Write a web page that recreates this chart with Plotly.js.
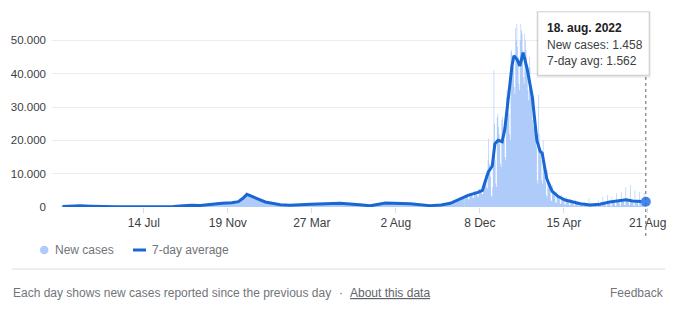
<!DOCTYPE html>
<html><head><meta charset="utf-8">
<script src="https://cdn.plot.ly/plotly-3.0.1.min.js"></script>
<style>html,body{margin:0;padding:0;background:#fff;}#chart{width:694px;height:326px;}</style>
</head><body><div id="chart"></div>
<script>
// ---------- data ----------
const xTickDates = ['2020-07-14','2020-11-19','2021-03-27','2021-08-02','2021-12-08','2022-04-15','2022-08-21'];
const xTickLabels = ['14 Jul','19 Nov','27 Mar','2 Aug','8 Dec','15 Apr','21 Aug'];
const yTickValues = [0,10000,20000,30000,40000,50000];
const yTickLabels = ['0','10.000','20.000','30.000','40.000','50.000'];

// new cases, average per day for each week (Mon start), Mar 2020 - Nov 2021
const weeklyStart = '2020-03-09';
const weeklyCases = [
  150,200,250,300, 350,300,250,200, 150,120,100,80, 70,60,60,50,50, 50,50,60,80,
  120,150,150,130,200, 300,450,550,500, 450,500,700,950, 1100,1150,1200,1300,1500,
  2500,3500,3300,2600,
  2000,1300,900,750, 650,550,500,550, 650,700,750,800,750, 700,750,850,900,
  1000,1050,1000,900,800, 650,450,350,400, 700,1100,1200,1000, 950,1000,1050,1000,850,
  650,500,400,450, 550,700,950,1300, 1900,2500
];

// new cases per day, 15 Nov 2021 - 18 Aug 2022 (rows = weeks Mon..Sun)
const dailyStart = '2021-11-15';
const dailyCases = [
  3600,3500,3400,3300,3000,2400,2200,
  4200,4000,3900,3800,3500,2800,2600,
  4800,4700,4500,4400,4000,3300,3000,
  5400,5300,5100,5000,4700,4000,3800,
  7000,8000,8500,9500,8500,6000,5500,
  14000,20500,13000,12500,9000,3500,3000,
  6000,18000,41000,25000,14000,7000,6000,
  27000,28000,24000,22000,19000,13000,12000,
  26000,27000,24000,22000,20000,15000,14000,
  33000,35000,32000,30000,28000,22000,20000,
  46500,47000,45000,44000,42000,36000,34000,
  53600,50000,55000,48000,45000,37000,35000,
  50000,55000,53000,52000,47000,39000,37000,
  52000,50000,47000,45000,42000,35000,32000,
  45000,42000,38000,35000,32000,26000,24000,
  33000,30000,26000,22000,18000,8000,7000,
  33600,22000,18000,16000,14000,8000,7000,
  20000,14000,11000,9000,7500,3500,3000,
  11000,8000,6500,5500,4500,2000,1800,
  6500,5000,4200,3600,3200,1400,1200,
  4500,3500,3000,2600,2300,1000,900,
  3500,2800,2400,2100,1800,800,700,
  3100,2400,2000,1800,1500,600,500,
  2600,2000,1700,1500,1300,500,400,
  2200,1600,1400,1200,1000,400,350,
  1700,1300,1100,900,800,300,250,
  1400,1000,900,700,600,250,200,
  2600,800,700,550,450,200,150,
  1200,900,750,600,500,200,150,
  2000,1000,850,700,600,200,200,
  3100,1000,900,800,650,200,200,
  3600,1300,1200,1000,900,300,250,
  3000,1600,1500,1300,1100,400,350,
  4100,2000,1800,1600,1400,500,400,
  4500,2300,2000,1800,1600,600,500,
  5900,2400,2100,1900,1700,600,500,
  6600,2000,1800,1600,1400,500,400,
  5000,1900,1700,1500,1300,450,400,
  4600,1800,1600,1450,1300,450,400,
  4300,1900,1700,1458
];

// 7-day average, read at points along the line
const avgDates = [
  '2020-03-12','2020-03-25','2020-04-08','2020-04-25','2020-05-10','2020-06-01','2020-06-25',
  '2020-07-14','2020-08-08','2020-08-28','2020-09-12','2020-09-25','2020-10-08','2020-10-28',
  '2020-11-10','2020-11-25','2020-12-05','2020-12-12','2020-12-18','2020-12-23','2021-01-07',
  '2021-01-15','2021-02-07','2021-02-22','2021-03-25','2021-05-09','2021-06-08','2021-06-24',
  '2021-07-17','2021-08-24','2021-09-23','2021-10-10','2021-10-24','2021-11-08','2021-11-20',
  '2021-12-05','2021-12-12','2021-12-16','2021-12-21','2021-12-27','2021-12-31','2022-01-05',
  '2022-01-11','2022-01-15','2022-01-20','2022-01-26','2022-01-29','2022-02-03','2022-02-07',
  '2022-02-12','2022-02-18','2022-02-26','2022-03-05','2022-03-10','2022-03-13','2022-03-20',
  '2022-03-28','2022-04-06','2022-04-17','2022-04-24','2022-05-10','2022-05-25','2022-06-09',
  '2022-06-24','2022-07-09','2022-07-19','2022-07-29','2022-08-08','2022-08-18'
];
const avgValues = [
  150,250,350,250,130,70,50,
  50,120,130,350,550,450,950,
  1150,1300,1600,2600,3800,3400,2300,
  1500,650,550,850,1100,650,350,
  1200,1000,400,600,1100,2300,3500,
  4400,5000,7500,10500,12300,19000,20000,
  19600,23200,32000,42300,45400,44200,42300,
  46300,41600,33000,20000,16700,16200,8500,
  4800,3200,2100,1700,1000,600,850,
  1500,2000,2200,1800,1700,1562
];
const tooltipDate = '18. aug. 2022';

// ---------- helpers ----------
const DAY = 86400000;
function addDays(iso, n){ return new Date(Date.parse(iso + 'T00:00:00Z') + n*DAY); }
function iso(d){ return d.toISOString().slice(0,10); }
function fmt(n){ return String(n).replace(/\B(?=(\d{3})+(?!\d))/g,'.'); }

const weeklyX = weeklyCases.map((_,i)=> iso(addDays(weeklyStart, i*7)));
const dailyX = dailyCases.map((_,i)=> iso(addDays(dailyStart, i)));
const lastDate = dailyX[dailyX.length-1];

// geometry (px) for paper-coordinate placement
const W=694, H=326, ML=52, MR=46, MT=17, MB=119;
const PW = W-ML-MR, PH = H-MT-MB;
const px = x => (x-ML)/PW;
const py = y => (H-MB-y)/PH;

const FONT = 'Arial, "Liberation Sans", sans-serif';
const BAR = '#aecbfa', LINE = '#1967d2', DOT = '#4285f4', GREY = '#70757a';

// daily bars drawn as a single stepped area (one bar per step, no seams between bars)
const traces = [
  {type:'scatter', mode:'lines', x: weeklyX.concat([dailyX[0]]), y: weeklyCases.concat([dailyCases[0]]),
   line:{width:0, shape:'hv', color:BAR}, fill:'tozeroy', fillcolor:BAR, hoverinfo:'skip', showlegend:false},
  {type:'scatter', mode:'lines', x: dailyX, y: dailyCases,
   line:{width:0, shape:'hv', color:BAR}, fill:'tozeroy', fillcolor:BAR, hoverinfo:'skip', showlegend:false},
  {type:'scatter', mode:'lines', x: avgDates, y: avgValues, line:{color:LINE, width:3}, hoverinfo:'skip', showlegend:false},
  {type:'scatter', mode:'markers', x:[avgDates[avgDates.length-1]], y:[avgValues[avgValues.length-1]],
   marker:{color:DOT, size:10}, hoverinfo:'skip', showlegend:false, cliponaxis:false}
];

const shapes = [
  // hover guide
  {type:'line', xref:'x', yref:'paper', x0:lastDate, x1:lastDate, y0:py(236), y1:py(14),
   line:{color:'#5f6368', width:1, dash:'dot'}},
  // tooltip shadow + box
  {type:'rect', xref:'paper', yref:'paper', x0:px(536), x1:px(651), y0:py(78), y1:py(11), fillcolor:'rgba(0,0,0,0.05)', line:{width:0}},
  {type:'rect', xref:'paper', yref:'paper', x0:px(537), x1:px(650), y0:py(76.5), y1:py(11.5), fillcolor:'rgba(0,0,0,0.08)', line:{width:0}},
  {type:'rect', xref:'paper', yref:'paper', x0:px(538), x1:px(649), y0:py(75), y1:py(12), fillcolor:'#ffffff', line:{color:'rgba(0,0,0,0.10)', width:1}},
  // legend marks
  {type:'circle', xref:'paper', yref:'paper', x0:px(40), x1:px(48.5), y0:py(254.3), y1:py(245.8), fillcolor:BAR, line:{width:0}},
  {type:'line', xref:'paper', yref:'paper', x0:px(133), x1:px(146), y0:py(250), y1:py(250), line:{color:LINE, width:3}},
  // footer separator
  {type:'line', xref:'paper', yref:'paper', x0:px(12), x1:px(665), y0:py(269), y1:py(269), line:{color:'#dadce0', width:1}}
];

function ann(text, x, y, opts){
  return Object.assign({text, xref:'paper', yref:'paper', x:px(x), y:py(y), xanchor:'left', yanchor:'middle',
    showarrow:false, font:{family:FONT, size:12, color:GREY}}, opts||{});
}
const annotations = [
  ann('<b>'+tooltipDate+'</b>', 545, 28, {font:{family:FONT, size:12, color:'#202124'}}),
  ann('New cases: '+fmt(dailyCases[dailyCases.length-1]), 545, 45, {font:{family:FONT, size:12, color:'#3c4043'}}),
  ann('7-day avg: '+fmt(avgValues[avgValues.length-1]), 545, 61, {font:{family:FONT, size:12, color:'#3c4043'}}),
  ann('New cases', 53, 250),
  ann('7-day average', 150, 250),
  ann('Each day shows new cases reported since the previous day', 11, 293),
  ann('·', 337, 293),
  ann('<u>About this data</u>', 348, 293, {font:{family:FONT, size:12, color:'#5f6368'}}),
  ann('Feedback', 666, 293, {xanchor:'right'})
];

const layout = {
  width:W, height:H, margin:{l:ML, r:MR, t:MT, b:MB, pad:0},
  paper_bgcolor:'#fff', plot_bgcolor:'#fff',
  showlegend:false, hovermode:false,
  xaxis:{type:'date', range:['2020-02-25','2022-08-21 08:00'], tickmode:'array', tickvals:xTickDates, ticktext:xTickLabels,
    showgrid:false, zeroline:false, showline:false, ticks:'outside', ticklen:5, tickcolor:'#dadce0', tickwidth:1,
    tickfont:{family:FONT, size:12, color:'#3c4043'}, fixedrange:true},
  yaxis:{range:[0,57000], tickmode:'array', tickvals:yTickValues, ticktext:yTickLabels,
    showgrid:true, gridcolor:'#ececec', gridwidth:1, zeroline:false, showline:false, ticks:'',
    ticklabelstandoff:5, tickfont:{family:FONT, size:11.5, color:'#3c4043'}, fixedrange:true},
  shapes, annotations
};

Plotly.newPlot('chart', traces, layout, {displayModeBar:false, staticPlot:true});
</script></body></html>
